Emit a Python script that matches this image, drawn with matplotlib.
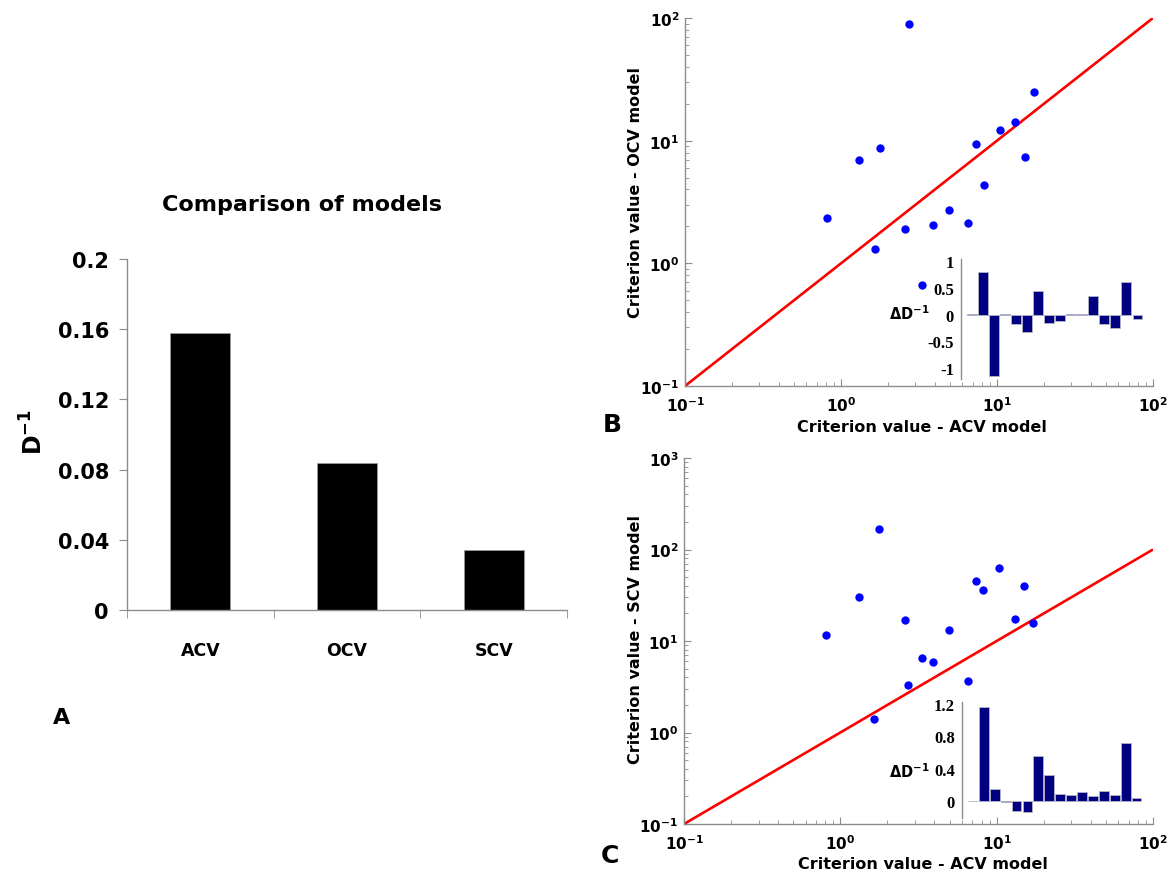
import matplotlib
matplotlib.use("Agg")
import matplotlib.pyplot as plt
import numpy as np
from matplotlib.ticker import FixedLocator, LogLocator, FuncFormatter, NullFormatter

plt.rcParams['font.family'] = ['DejaVu Sans']
plt.rcParams['font.weight'] = 'bold'
plt.rcParams['mathtext.default'] = 'bf'

# Panel A: overall inverse deviance per model
models = ['ACV', 'OCV', 'SCV']
inv_d = [0.158, 0.084, 0.034]
a_ticks = [0, 0.04, 0.08, 0.12, 0.16, 0.2]
a_tick_labels = ['0', '0.04', '0.08', '0.12', '0.16', '0.2']

# Panels B and C: per-subject criterion values
acv_crit = [0.81, 1.31, 1.64, 1.77, 2.58, 2.71, 3.32, 3.91, 4.95, 6.54,
            7.36, 8.22, 10.4, 13.1, 15.05, 17.15]
ocv_crit = [2.33, 6.93, 1.30, 8.75, 1.89, 88.8, 0.67, 2.04, 2.74, 2.12,
            9.32, 4.39, 12.3, 14.3, 7.34, 25.0]
scv_crit = [11.6, 29.9, 1.40, 169.0, 16.9, 3.31, 6.47, 5.95, 13.1, 3.66,
            45.0, 36.3, 62.0, 17.2, 40.0, 15.9]

# Insets: per-subject change in inverse deviance
delta_ocv = [0.01, 0.81, -1.15, 0.015, -0.18, -0.33, 0.44, -0.15, -0.12, 0.005,
             0.02, 0.35, -0.18, -0.26, 0.61, -0.08]
delta_scv = [0.01, 1.16, 0.15, -0.01, -0.12, -0.13, 0.56, 0.33, 0.09, 0.08,
             0.11, 0.07, 0.13, 0.08, 0.72, 0.04]
ocv_ticks = [-1, -0.5, 0, 0.5, 1]
ocv_tick_labels = ['-1', '-0.5', '0', '0.5', '1']
scv_ticks = [0, 0.4, 0.8, 1.2]
scv_tick_labels = ['0', '0.4', '0.8', '1.2']

W, H = 1172, 878
fig = plt.figure(figsize=(W / 100, H / 100), dpi=100)
SPINE = '#8c8c8c'


def box(l, t, r, b):
    return [l / W, 1 - b / H, (r - l) / W, (b - t) / H]


def ftext(x, y, s, **kw):
    return fig.text(x / W, 1 - y / H, s, ha='center', va='center', **kw)


# ---------------- Panel A ----------------
ax = fig.add_axes(box(127, 260, 567, 611))
xpos = np.arange(1, len(models) + 1)
ax.bar(xpos, inv_d, width=0.41, color='black', edgecolor='#999999', lw=0.6)
ax.set_xlim(0.5, len(models) + 0.5)
ax.set_ylim(0, 0.2)
for s in ('top', 'right'):
    ax.spines[s].set_visible(False)
for s in ('left', 'bottom'):
    ax.spines[s].set_color(SPINE)
    ax.spines[s].set_linewidth(1.0)
ax.set_yticks(a_ticks)
ax.set_yticklabels(a_tick_labels)
ax.tick_params(axis='y', direction='out', length=6, color=SPINE, labelsize=15, pad=7)
ax.set_xticks(xpos)
ax.set_xticklabels(models)
ax.tick_params(axis='x', which='major', length=0, labelsize=12.5, pad=22)
ax.xaxis.set_minor_locator(FixedLocator(np.arange(0.5, len(models) + 1, 1.0)))
ax.tick_params(axis='x', which='minor', direction='out', length=6, color=SPINE)

ftext(302, 205, 'Comparison of models', fontsize=16, fontweight='bold')
ftext(34, 432, 'D$^{-1}$', fontsize=17, rotation=90)
ftext(62, 718, 'A', fontsize=16)


# ---------------- Panels B and C ----------------
def pow_label(v, pos):
    e = int(round(np.log10(v)))
    return r'$10^{%d}$' % e


def crit_panel(rect, yvals, ytop):
    a = fig.add_axes(rect)
    a.set_xscale('log')
    a.set_yscale('log')
    a.set_xlim(0.1, 100)
    a.set_ylim(0.1, ytop)
    a.plot([0.1, 100], [0.1, 100], color='#ff0000', lw=1.9, zorder=2,
           solid_capstyle='butt')
    a.plot(acv_crit, yvals, 'o', color='#0000ff', ms=6, mec='none', zorder=3)
    for s in ('top', 'right'):
        a.spines[s].set_visible(False)
    for s in ('left', 'bottom'):
        a.spines[s].set_color(SPINE)
        a.spines[s].set_linewidth(1.0)
    for axis in (a.xaxis, a.yaxis):
        axis.set_major_locator(LogLocator(base=10, numticks=12))
        axis.set_minor_locator(LogLocator(base=10, subs=np.arange(2, 10), numticks=12))
        axis.set_major_formatter(FuncFormatter(pow_label))
        axis.set_minor_formatter(NullFormatter())
    a.tick_params(which='major', direction='in', length=5, color=SPINE, labelsize=11)
    a.tick_params(axis='y', which='major', pad=4)
    a.tick_params(axis='x', which='major', pad=7)
    a.tick_params(which='minor', direction='in', length=3, color=SPINE)
    return a


def delta_inset(rect, vals, ylim, ticks, labels):
    ia = fig.add_axes(rect)
    ia.patch.set_alpha(0)
    ia.bar(np.arange(1, len(vals) + 1), vals, width=0.9, color='#000080',
           edgecolor='#b4b4c8', lw=0.6)
    ia.set_xlim(0, len(vals) + 0.5)
    ia.set_ylim(*ylim)
    for s in ('top', 'right', 'bottom'):
        ia.spines[s].set_visible(False)
    ia.spines['left'].set_color(SPINE)
    ia.spines['left'].set_linewidth(1.0)
    ia.set_xticks([])
    ia.set_yticks(ticks)
    ia.set_yticklabels(labels, fontfamily='Liberation Serif', fontweight='bold', fontsize=12)
    ia.tick_params(axis='y', length=0, pad=5)
    return ia


# Panel B
crit_panel(box(685, 19, 1153, 387), ocv_crit, 100)
ftext(922, 428, 'Criterion value - ACV model', fontsize=11.5)
ftext(636, 193, 'Criterion value - OCV model', fontsize=11.5, rotation=90)
ftext(612, 425, 'B', fontsize=18)
delta_inset(box(961, 260, 1143, 380), delta_ocv, (-1.21, 1.045), ocv_ticks, ocv_tick_labels)
ftext(909, 314, '\u0394D$^{-1}$', fontsize=10.5)

# Panel C
crit_panel(box(684, 459, 1153, 825), scv_crit, 1000)
ftext(923, 865, 'Criterion value - ACV model', fontsize=11.5)
ftext(636, 640, 'Criterion value - SCV model', fontsize=11.5, rotation=90)
ftext(610, 856, 'C', fontsize=18)
delta_inset(box(962, 703, 1142, 819), delta_scv, (-0.204, 1.22), scv_ticks, scv_tick_labels)
ftext(909, 772, '\u0394D$^{-1}$', fontsize=10.5)

fig.savefig('out.png', dpi=100)
